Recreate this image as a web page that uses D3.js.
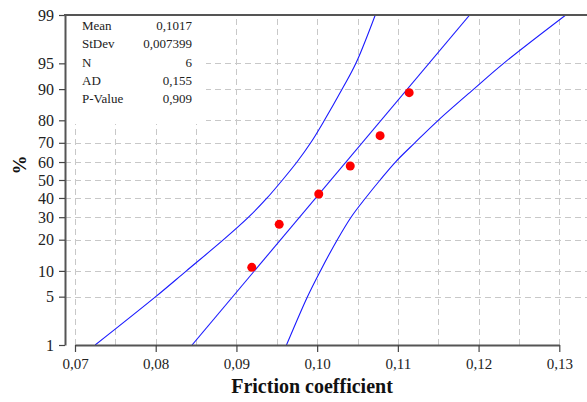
<!DOCTYPE html>
<html>
<head>
<meta charset="utf-8">
<script src="https://cdn.jsdelivr.net/npm/d3@7"></script>
<style>
  body { margin: 0; background: #fff; }
  svg, svg text { font-family: "Liberation Serif", "DejaVu Serif", serif; }
  svg { display: block; }
</style>
</head>
<body>
<svg width="587" height="402"></svg>
<script>
// friction coefficient samples and their plotting positions (%)
const sampleValues = [0.0919, 0.0953, 0.1002, 0.1041, 0.1078, 0.1114];
const samplePercents = [10.9, 26.6, 42.2, 57.8, 73.4, 89.1];

// fitted line, read at its two ends
const fitPercents = [1, 99];
const fitValues = [0.0845, 0.1189];

const bandPercents = [1, 5, 10, 20, 30, 40, 50, 60, 70, 80, 90, 95, 99];
const bandLower = [0.0725, 0.0800, 0.0838, 0.0884, 0.0915, 0.0938, 0.0957, 0.0975, 0.0992, 0.1009, 0.1031, 0.1048, 0.1072];
const bandUpper = [0.0962, 0.0988, 0.1004, 0.1025, 0.1042, 0.1060, 0.1078, 0.1097, 0.1121, 0.1150, 0.1194, 0.1231, 0.1308];

const xTicks = [0.07, 0.08, 0.09, 0.10, 0.11, 0.12, 0.13];
const xGrid = [0.07, 0.075, 0.08, 0.085, 0.09, 0.095, 0.10, 0.105, 0.11, 0.115, 0.12, 0.125, 0.13];
const yTicks = [1, 5, 10, 20, 30, 40, 50, 60, 70, 80, 90, 95, 99];

const statNames = ["Mean", "StDev", "N", "AD", "P-Value"];
const statValues = ["0,1017", "0,007399", "6", "0,155", "0,909"];

// inverse normal cdf (Acklam) used for the probability scale
function probit(p) {
    const a = [-3.969683028665376e+01, 2.209460984245205e+02, -2.759285104469687e+02, 1.383577518672690e+02, -3.066479806614716e+01, 2.506628277459239e+00];
    const b = [-5.447609879822406e+01, 1.615858368580409e+02, -1.556989798598866e+02, 6.680131188771972e+01, -1.328068155288572e+01];
    const c = [-7.784894002430293e-03, -3.223964580411365e-01, -2.400758277161838e+00, -2.549732539343734e+00, 4.374664141464968e+00, 2.938163982698783e+00];
    const d = [7.784695709041462e-03, 3.224671290700398e-01, 2.445134137142996e+00, 3.754408661907416e+00];
    const pl = 0.02425;
    let q, r;
    if (p < pl) {
        q = Math.sqrt(-2 * Math.log(p));
        return (((((c[0]*q+c[1])*q+c[2])*q+c[3])*q+c[4])*q+c[5]) / ((((d[0]*q+d[1])*q+d[2])*q+d[3])*q+1);
    }
    if (p <= 1 - pl) {
        q = p - 0.5; r = q * q;
        return (((((a[0]*r+a[1])*r+a[2])*r+a[3])*r+a[4])*r+a[5])*q / (((((b[0]*r+b[1])*r+b[2])*r+b[3])*r+b[4])*r+1);
    }
    q = Math.sqrt(-2 * Math.log(1 - p));
    return -(((((c[0]*q+c[1])*q+c[2])*q+c[3])*q+c[4])*q+c[5]) / ((((d[0]*q+d[1])*q+d[2])*q+d[3])*q+1);
}

const svg = d3.select("svg");
const pLeft = 65, pTop = 15, pBottom = 345, pRight = 600;
const serif = "'Liberation Serif', 'DejaVu Serif', serif";

const x = d3.scaleLinear().domain([0.07, 0.13]).range([75, 559.3]);
const yz = d3.scaleLinear().domain([probit(0.01), probit(0.99)]).range([pBottom, pTop]);
const y = p => yz(probit(p / 100));

const comma = v => d3.format(".2f")(v).replace(".", ",");

svg.append("clipPath").attr("id", "plot")
    .append("rect").attr("x", pLeft).attr("y", pTop).attr("width", pRight - pLeft).attr("height", pBottom - pTop);

// grid
const grid = svg.append("g")
    .attr("stroke", "#c8c8c8")
    .attr("stroke-width", 1)
    .attr("stroke-dasharray", "6,4");

grid.selectAll("line.v")
    .data(xGrid)
    .enter().append("line")
        .attr("x1", d => Math.round(x(d)) + 0.5)
        .attr("x2", d => Math.round(x(d)) + 0.5)
        .attr("y1", pBottom)
        .attr("y2", pTop);

grid.selectAll("line.h")
    .data(yTicks.slice(1, -1))
    .enter().append("line")
        .attr("x1", pLeft)
        .attr("x2", pRight)
        .attr("y1", d => Math.round(y(d)) + 0.5)
        .attr("y2", d => Math.round(y(d)) + 0.5);

// stats box
svg.append("rect")
    .attr("x", pLeft + 1).attr("y", pTop + 1)
    .attr("width", 140).attr("height", 108)
    .attr("fill", "#fff");

const stats = svg.append("g")
    .style("font-family", serif)
    .attr("font-size", 13)
    .attr("fill", "#222");
stats.selectAll("text.n")
    .data(statNames)
    .enter().append("text")
        .attr("x", 82)
        .attr("y", (d, i) => 30 + i * 18.3)
        .text(d => d);
stats.selectAll("text.v")
    .data(statValues)
    .enter().append("text")
        .attr("x", 192)
        .attr("y", (d, i) => 30 + i * 18.3)
        .attr("text-anchor", "end")
        .text(d => d);

// lines
const plot = svg.append("g").attr("clip-path", "url(#plot)");
const line = d3.line()
    .x(d => x(d[0]))
    .y(d => y(d[1]))
    .curve(d3.curveCatmullRom.alpha(0.5));

[bandLower, bandUpper].forEach(vals => {
    plot.append("path")
        .datum(vals.map((v, i) => [v, bandPercents[i]]))
        .attr("d", line)
        .attr("fill", "none")
        .attr("stroke", "#1a1aff")
        .attr("stroke-width", 1.1);
});

plot.append("path")
    .datum(fitValues.map((v, i) => [v, fitPercents[i]]))
    .attr("d", line)
    .attr("fill", "none")
    .attr("stroke", "#1a1aff")
    .attr("stroke-width", 1.1);

plot.selectAll("circle")
    .data(sampleValues)
    .enter().append("circle")
        .attr("cx", d => x(d))
        .attr("cy", (d, i) => y(samplePercents[i]))
        .attr("r", 4.5)
        .attr("fill", "#ff0000");

// axes
const xAxis = svg.append("g")
    .attr("transform", `translate(0,${pBottom})`)
    .call(d3.axisBottom(x).tickValues(xTicks).tickFormat(comma).tickSize(7).tickSizeOuter(0));

const yAxis = svg.append("g")
    .attr("transform", `translate(${pLeft},0)`)
    .call(d3.axisLeft(yz).tickValues(yTicks.map(p => probit(p / 100))).tickFormat((d, i) => yTicks[i]).tickSize(6).tickSizeOuter(0));

[xAxis, yAxis].forEach(g => {
    g.attr("font-family", null).style("font-family", serif);
    g.select(".domain").attr("stroke", "#555").attr("stroke-width", 2);
    g.selectAll(".tick line").attr("stroke", "#444").attr("stroke-width", 1.2);
    g.selectAll(".tick text")
        .attr("fill", "#222")
        .style("font-family", serif);
});
xAxis.selectAll(".tick text").attr("font-size", 15).attr("dy", "0.9em");
yAxis.selectAll(".tick text").attr("font-size", 16).attr("dx", "-2");

// top border
svg.append("line")
    .attr("x1", pLeft - 1).attr("x2", pRight)
    .attr("y1", pTop).attr("y2", pTop)
    .attr("stroke", "#555").attr("stroke-width", 2);

// titles
svg.append("text")
    .attr("x", 312).attr("y", 393)
    .attr("text-anchor", "middle")
    .style("font-family", serif)
    .attr("font-size", 20)
    .attr("font-weight", "bold")
    .attr("fill", "#111")
    .text("Friction coefficient");

svg.append("text")
    .attr("transform", "translate(26,165) rotate(-90)")
    .attr("text-anchor", "middle")
    .style("font-family", serif)
    .attr("font-size", 19)
    .attr("font-weight", "bold")
    .attr("fill", "#111")
    .text("%");
</script>
</body>
</html>
